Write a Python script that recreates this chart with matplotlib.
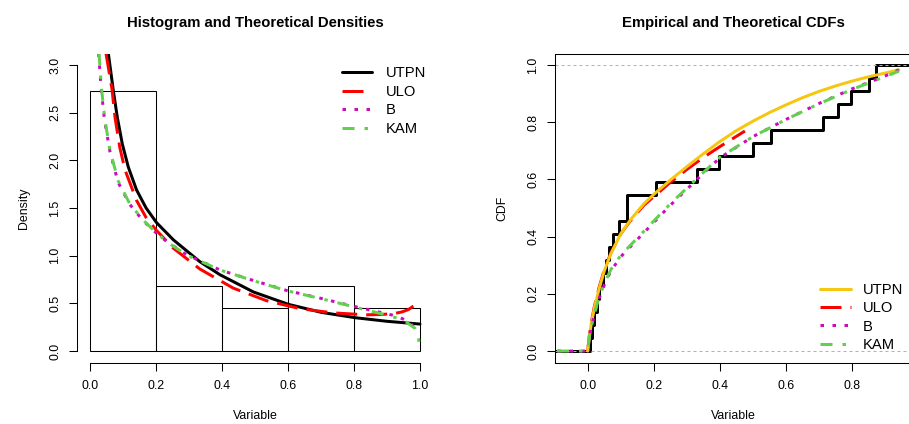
import numpy as np
import matplotlib
matplotlib.use('Agg')
import matplotlib.pyplot as plt

plt.rcParams['font.family'] = ['Liberation Sans', 'DejaVu Sans']
plt.rcParams['lines.scale_dashes'] = False

# ---- data ----
sample = [0.008, 0.013, 0.020, 0.027, 0.035, 0.045, 0.054, 0.065, 0.077, 0.095,
          0.118, 0.118, 0.206, 0.331, 0.397, 0.500, 0.555, 0.711, 0.756, 0.796,
          0.850, 0.870]
hist_breaks = [0.0, 0.2, 0.4, 0.6, 0.8, 1.0]
labels = ['UTPN', 'ULO', 'B', 'KAM']

# densities
utpn_x = [0.0556, 0.0707, 0.0828, 0.098, 0.116, 0.141, 0.170, 0.202, 0.253, 0.333,
          0.394, 0.495, 0.601, 0.702, 0.803, 0.90, 1.0]
utpn_d = [3.12, 2.73, 2.45, 2.17, 1.93, 1.69, 1.50, 1.345, 1.165, 0.937,
          0.80, 0.62, 0.49, 0.405, 0.35, 0.312, 0.283]
ulo_x = [0.0485, 0.0667, 0.0758, 0.090, 0.106, 0.141, 0.170, 0.200, 0.253, 0.333,
         0.434, 0.535, 0.636, 0.737, 0.838, 0.88, 0.92, 0.945, 0.965, 0.98]
ulo_d = [3.12, 2.745, 2.45, 2.14, 1.90, 1.58, 1.40, 1.27, 1.077, 0.86,
         0.66, 0.528, 0.445, 0.40, 0.38, 0.383, 0.392, 0.41, 0.435, 0.472]
b_x = [0.026, 0.034, 0.044, 0.060, 0.085, 0.120, 0.160, 0.197, 0.232, 0.293,
       0.394, 0.495, 0.596, 0.697, 0.798, 0.894, 0.929, 0.967, 0.992]
b_d = [3.12, 2.74, 2.42, 2.10, 1.77, 1.54, 1.37, 1.25, 1.15, 1.01,
       0.85, 0.74, 0.635, 0.555, 0.47, 0.395, 0.367, 0.307, 0.21]
kam_x = [0.0273, 0.0354, 0.0455, 0.0606, 0.0859, 0.121, 0.162, 0.197, 0.232, 0.293,
         0.394, 0.495, 0.596, 0.697, 0.798, 0.899, 0.934, 0.96, 0.985, 0.995, 1.0]
kam_d = [3.12, 2.735, 2.42, 2.10, 1.78, 1.54, 1.37, 1.252, 1.147, 1.007,
         0.85, 0.738, 0.633, 0.552, 0.465, 0.377, 0.343, 0.30, 0.238, 0.15, 0.01]

# CDFs
utpn_cx = [0.0, 0.005, 0.01, 0.02, 0.035, 0.05, 0.07, 0.1, 0.13, 0.17, 0.2,
           0.25, 0.3, 0.35, 0.4, 0.45, 0.5, 0.55, 0.6, 0.65, 0.7, 0.75, 0.8,
           0.85, 0.9, 0.94]
utpn_F = [0.0, 0.05, 0.09, 0.15, 0.22, 0.28, 0.34, 0.41, 0.46, 0.515, 0.548,
          0.598, 0.645, 0.69, 0.733, 0.771, 0.804, 0.834, 0.861, 0.886, 0.908,
          0.927, 0.944, 0.959, 0.972, 0.983]
ulo_cx = [0.0, 0.005, 0.01, 0.02, 0.035, 0.05, 0.07, 0.1, 0.13, 0.17, 0.2,
          0.25, 0.3, 0.35, 0.4, 0.475]
ulo_F = [0.0, 0.055, 0.095, 0.155, 0.225, 0.283, 0.343, 0.41, 0.457, 0.51, 0.54,
         0.59, 0.635, 0.677, 0.715, 0.769]
b_cx = [-0.2, 0.0, 0.005, 0.01, 0.02, 0.035, 0.05, 0.07, 0.1, 0.15, 0.2, 0.25,
        0.3, 0.35, 0.4, 0.5, 0.6, 0.7, 0.8, 0.9, 0.94]
b_F = [0.0, 0.0, 0.048, 0.078, 0.127, 0.186, 0.231, 0.28, 0.33, 0.39, 0.45, 0.51,
       0.566, 0.622, 0.676, 0.75, 0.81, 0.866, 0.917, 0.962, 0.983]
kam_cx = [-0.2, 0.0, 0.005, 0.01, 0.02, 0.035, 0.05, 0.07, 0.1, 0.15, 0.2, 0.25,
          0.3, 0.35, 0.4, 0.5, 0.6, 0.7, 0.8, 0.9, 0.94]
kam_F = [0.0, 0.0, 0.05, 0.08, 0.13, 0.19, 0.235, 0.285, 0.335, 0.395, 0.455, 0.515,
         0.57, 0.625, 0.678, 0.75, 0.81, 0.865, 0.915, 0.96, 0.978]

# ---- styles ----
PX = 0.72  # points per pixel at dpi 100
LW = 3 * PX
FS = 8.9
col = {'UTPN': 'black', 'ULO': 'red', 'B': '#CD0BBC', 'KAM': '#61D04F'}
dash = {'UTPN': None,
        'ULO': (21 * PX, 9 * PX),
        'B': (3.5 * PX, 8.5 * PX),
        'KAM': (12 * PX, 10 * PX, 3.5 * PX, 10 * PX)}


def styled(ax, x, y, name, color=None):
    ln, = ax.plot(x, y, color=color or col[name], lw=LW, label=name,
                  solid_capstyle='round', solid_joinstyle='round',
                  dash_capstyle='butt')
    if dash[name] is not None:
        ln.set_dashes(dash[name])
    return ln


def r_ticks(ax):
    ax.tick_params(axis='both', length=8 * PX, width=0.75, labelsize=FS,
                   direction='out')
    ax.tick_params(axis='x', pad=9.7 * PX)
    ax.tick_params(axis='y', pad=7.7 * PX)
    for lab in ax.get_yticklabels():
        lab.set_rotation(90)
        lab.set_va('center')


W, H = 909, 424
fig = plt.figure(figsize=(W / 100, H / 100), dpi=100)
axw, axh = 356.4 / W, 309 / H
ax1 = fig.add_axes([76.8 / W, 61.5 / H, axw, axh])
ax2 = fig.add_axes([555 / W, 61.5 / H, axw, axh])

# ---- left: histogram + densities ----
ax1.hist(sample, bins=hist_breaks, density=True, fill=False, edgecolor='black',
         linewidth=0.75)
styled(ax1, utpn_x, utpn_d, 'UTPN')
styled(ax1, ulo_x, ulo_d, 'ULO')
styled(ax1, b_x, b_d, 'B')
styled(ax1, kam_x, kam_d, 'KAM')
ax1.set_xlim(-0.04, 1.04)
ax1.set_ylim(-0.12, 3.12)
ax1.spines[['top', 'right']].set_visible(False)
ax1.spines['left'].set_bounds(0, 3)
ax1.spines['bottom'].set_bounds(0, 1)
for s in ('left', 'bottom'):
    ax1.spines[s].set_linewidth(0.75)
ax1.set_xticks(hist_breaks)
ax1.set_xticklabels(['%.1f' % v for v in hist_breaks])
yt = np.arange(0, 3.01, 0.5)
ax1.set_yticks(yt)
ax1.set_yticklabels(['%.1f' % v for v in yt])
r_ticks(ax1)
ax1.set_xlabel('Variable', fontsize=FS)
ax1.set_ylabel('Density', fontsize=FS)
ax1.xaxis.set_label_coords(0.5, -0.155)
ax1.yaxis.set_label_coords(-0.132, 0.5)
ax1.legend(loc='upper left', bbox_to_anchor=(342 / W, 1 - 66 / H),
           bbox_transform=fig.transFigure, frameon=False, fontsize=10.6,
           handlelength=2.04, handletextpad=0.95, labelspacing=0.32,
           borderpad=0, borderaxespad=0)

# ---- right: ECDF + CDFs ----
xlo, xhi = -0.0988, 0.978
xs = np.sort(sample)
n = len(xs)
xe = np.concatenate([[xlo - 0.1], xs, [xhi + 0.1]])
ye = np.concatenate([[0.0], np.arange(1, n + 1) / n, [1.0]])
ax2.step(xe, ye, where='post', color='black', lw=LW)
for h in (0, 1):
    ax2.axhline(h, color='#B3B3B3', lw=0.75, dashes=(3 * PX, 3 * PX))
styled(ax2, ulo_cx, ulo_F, 'ULO')
styled(ax2, utpn_cx, utpn_F, 'UTPN', color='#F5C710')
styled(ax2, b_cx, b_F, 'B')
styled(ax2, kam_cx, kam_F, 'KAM')
ax2.set_xlim(xlo, xhi)
ax2.set_ylim(-0.04, 1.04)
for s in ax2.spines.values():
    s.set_linewidth(0.75)
xt = np.arange(0, 0.81, 0.2)
ax2.set_xticks(xt)
ax2.set_xticklabels(['%.1f' % v for v in xt])
yt2 = np.arange(0, 1.01, 0.2)
ax2.set_yticks(yt2)
ax2.set_yticklabels(['%.1f' % v for v in yt2])
r_ticks(ax2)
ax2.set_xlabel('Variable', fontsize=FS)
ax2.set_ylabel('CDF', fontsize=FS)
ax2.xaxis.set_label_coords(0.5, -0.155)
ax2.yaxis.set_label_coords(-0.132, 0.5)
hd, lb = ax2.get_legend_handles_labels()
order = [lb.index(k) for k in labels]
ax2.legend([hd[i] for i in order], labels, loc='upper left',
           bbox_to_anchor=(820 / W, 1 - 282.8 / H),
           bbox_transform=fig.transFigure, frameon=False, fontsize=10.6,
           handlelength=2.1, handletextpad=0.82, labelspacing=0.30,
           borderpad=0, borderaxespad=0)

fig.text(255 / W, 1 - 26.5 / H, 'Histogram and Theoretical Densities',
         ha='center', va='baseline', fontsize=10.7, fontweight='bold')
fig.text(733 / W, 1 - 26.5 / H, 'Empirical and Theoretical CDFs',
         ha='center', va='baseline', fontsize=10.7, fontweight='bold')

fig.savefig('out.png', dpi=100)
